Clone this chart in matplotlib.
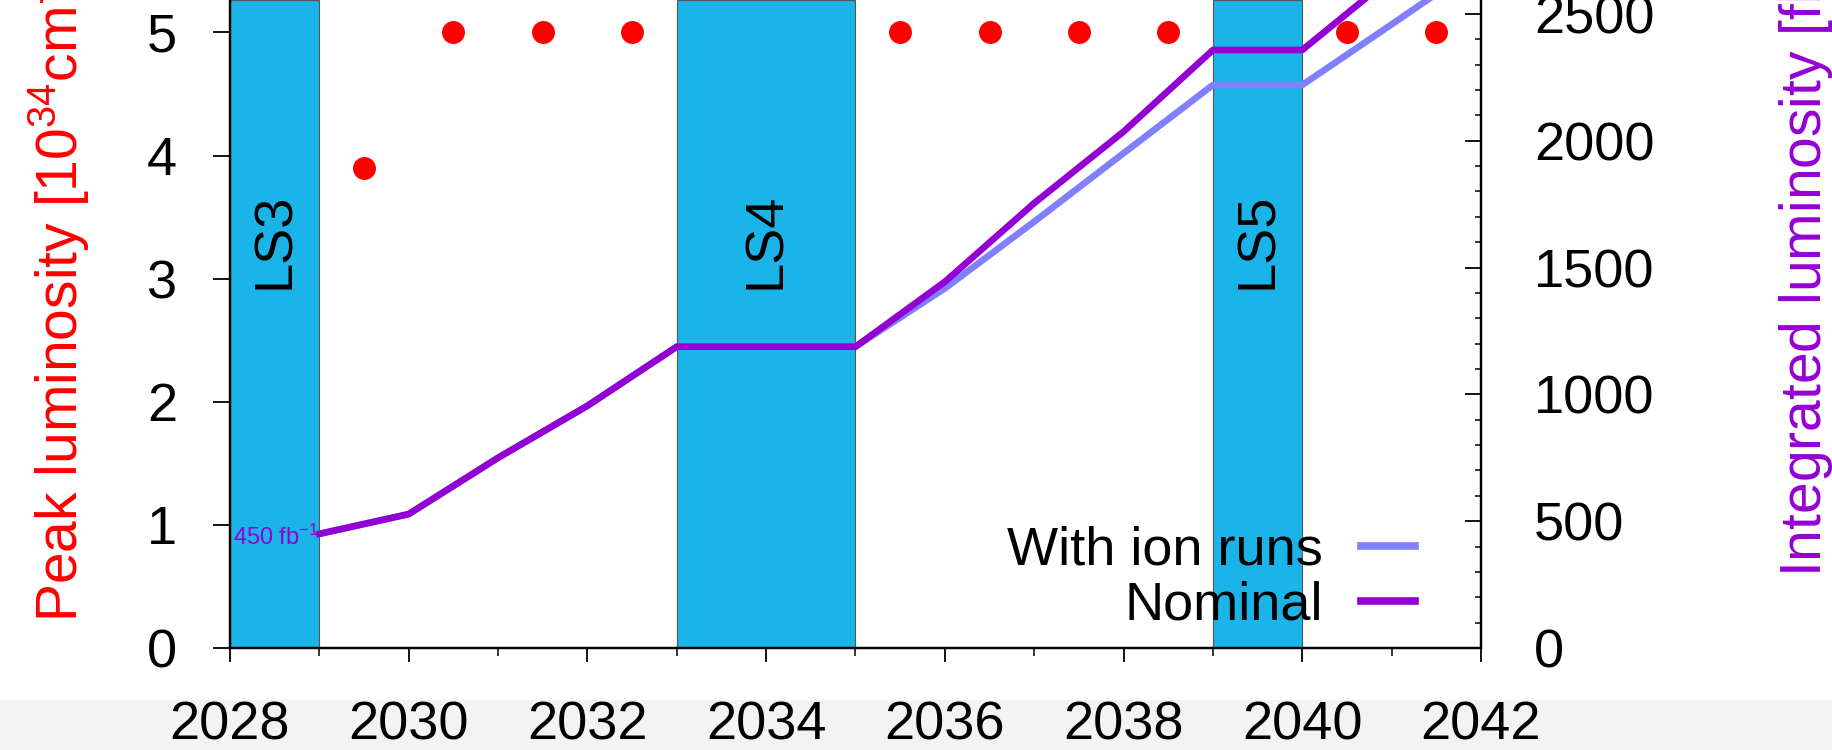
import matplotlib
matplotlib.use("Agg")
from matplotlib import pyplot as plt
from matplotlib.lines import Line2D
from matplotlib.patches import Rectangle
from matplotlib.ticker import MultipleLocator

plt.rcParams['font.family'] = ['Liberation Sans', 'DejaVu Sans']
plt.rcParams['mathtext.default'] = 'regular'

# long shutdowns (start, end, label)
shutdown_start = [2028, 2033, 2039]
shutdown_end = [2029, 2035, 2040]
shutdown_names = ["LS3", "LS4", "LS5"]

# peak luminosity [1e34 cm-2 s-1]
peak_years = [2029.5, 2030.5, 2031.5, 2032.5, 2035.5, 2036.5, 2037.5, 2038.5, 2040.5, 2041.5]
peak_lumi = [3.9, 5.0, 5.0, 5.0, 5.0, 5.0, 5.0, 5.0, 5.0, 5.0]

# integrated luminosity [fb-1]
int_years = [2029, 2030, 2031, 2032, 2033, 2034, 2035, 2036, 2037, 2038, 2039, 2040, 2041, 2042]
int_nominal = [450, 528, 750, 955, 1188, 1188, 1188, 1444, 1754, 2036, 2358, 2358, 2645, 2930]
int_ion = [450, 528, 750, 955, 1188, 1188, 1188, 1418, 1681, 1951, 2220, 2220, 2459, 2700]

band_color = '#1ab4e8'
nom_color = '#9400d3'
ion_color = '#8080ff'
fs = 39

W, H = 1832, 750
fig = plt.figure(figsize=(W / 100, H / 100), dpi=100)
fig.patches.append(Rectangle((0, 0), 1, 50 / H, transform=fig.transFigure,
                             facecolor='#f3f3f3', edgecolor='none', zorder=-1))

ax = fig.add_axes([230 / W, 102 / H, (1481 - 230) / W, 648 / H])
ax2 = ax.twinx()

for s, e, name in zip(shutdown_start, shutdown_end, shutdown_names):
    ax.axvspan(s, e, facecolor=band_color, edgecolor='#555555', lw=0.8, zorder=1)
    ax.text((s + e) / 2, 3.31, name, rotation=90, ha='center', va='center',
            fontsize=fs, zorder=2)

ax.plot(peak_years, peak_lumi, 'o', color='red', ms=15.5, zorder=3)

ax2.plot(int_years, int_ion, color=ion_color, lw=4.8)
ax2.plot(int_years, int_nominal, color=nom_color, lw=4.8)
ax2.text(2029, 406, r"450 fb$^{-1}$", color=nom_color, fontsize=17,
         ha='right', va='baseline')

ax.set_xlim(2028, 2042)
ax.set_ylim(0, 5.264)
ax2.set_ylim(0, 2555)

ax.xaxis.set_major_locator(MultipleLocator(2))
ax.xaxis.set_minor_locator(MultipleLocator(1))
ax.yaxis.set_major_locator(MultipleLocator(1))
ax2.yaxis.set_major_locator(MultipleLocator(500))
ax2.yaxis.set_minor_locator(MultipleLocator(100))

ax.tick_params(axis='x', which='major', direction='out', length=10, width=1.3,
               pad=28, labelsize=fs)
ax.tick_params(axis='x', which='minor', direction='out', length=6, width=1.1)
ax.tick_params(axis='y', which='major', direction='out', length=12, width=1.3,
               pad=26, labelsize=fs)
ax.tick_params(axis='y', right=False)
ax2.tick_params(axis='y', which='major', direction='in', length=11.5, width=1.3,
                pad=38, labelsize=fs)
ax2.tick_params(axis='y', which='minor', direction='in', length=4.5, width=1.1)

for a in (ax, ax2):
    a.spines['top'].set_visible(False)
    for side in ('left', 'right', 'bottom'):
        a.spines[side].set_linewidth(1.6)
ax.patch.set_visible(False)

fig.text(78 / W, (H - 622) / H, r"Peak luminosity [10$^{34}$cm$^{-2}$s$^{-1}$]",
         color='red', fontsize=41, rotation=90, rotation_mode='anchor',
         ha='left', va='baseline')
fig.text(1821 / W, (H - 577) / H, r"Integrated luminosity [fb$^{-1}$]",
         color=nom_color, fontsize=41, rotation=90, rotation_mode='anchor',
         ha='left', va='baseline')

handles = [Line2D([], [], color=ion_color, lw=5.5), Line2D([], [], color=nom_color, lw=5.5)]
ax2.legend(handles, ["With ion runs", "Nominal"], loc='lower right',
           bbox_to_anchor=(1415 / W, (H - 631) / H), bbox_transform=fig.transFigure,
           frameon=False, fontsize=fs, markerfirst=False, handlelength=1.0,
           handletextpad=0.7, labelspacing=0.1, borderpad=0, borderaxespad=0)

fig.savefig("out.png", dpi=100)
